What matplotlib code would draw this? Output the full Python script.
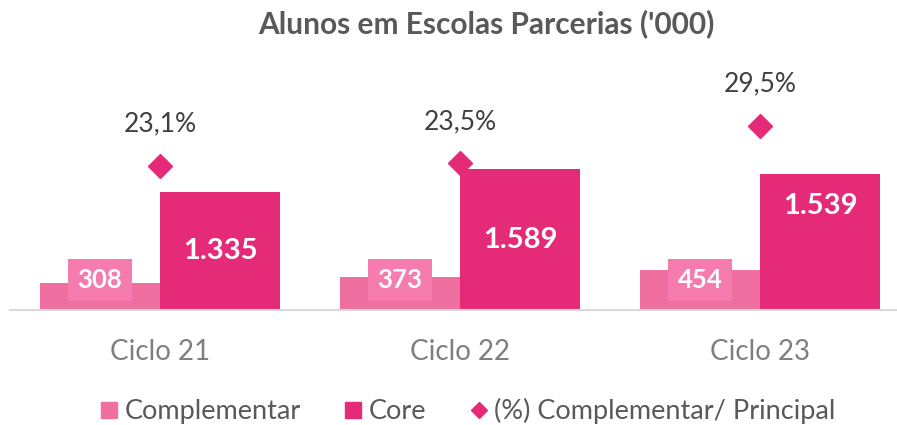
import matplotlib
matplotlib.use("Agg")
import matplotlib.pyplot as plt
from matplotlib.lines import Line2D
import numpy as np

plt.rcParams['font.family'] = ['Lato', 'DejaVu Sans']

categories = ["Ciclo 21", "Ciclo 22", "Ciclo 23"]
complementar = [308, 373, 454]
core = [1335, 1589, 1539]
pct = [23.1, 23.5, 29.5]
comp_labels = ["308", "373", "454"]
core_labels = ["1.335", "1.589", "1.539"]
pct_labels = ["23,1%", "23,5%", "29,5%"]
core_label_frac = [0.50, 0.50, 0.76]

C_COMP = "#EE6FA0"
C_COMP_BOX = "#F67BAE"
C_CORE = "#E52B78"

W, H = 897, 425
fig = plt.figure(figsize=(W / 100, H / 100), dpi=100)
ax_left, ax_right = 10, 896
ax_bottom, ax_top = 310, 60  # pixel rows from top
ax = fig.add_axes([ax_left / W, (H - ax_bottom) / H, (ax_right - ax_left) / W, (ax_bottom - ax_top) / H])

x = np.arange(len(categories))
bw = 0.4
ax.bar(x - bw / 2, complementar, width=bw, color=C_COMP, zorder=2)
ax.bar(x + bw / 2, core, width=bw, color=C_CORE, zorder=2)

ax.set_xlim(-0.5, -0.5 + (ax_right - ax_left) / 300)
ax.set_ylim(0, 250 / 0.0885)

for s in ["top", "right", "left"]:
    ax.spines[s].set_visible(False)
ax.spines["bottom"].set_color("#D9D9D9")
ax.spines["bottom"].set_linewidth(1.5)
ax.set_yticks([])
ax.set_xticks(x)
ax.set_xticklabels(categories, fontsize=20, color="#7F7F7F")
ax.tick_params(axis="x", length=0, pad=21)

# complementar labels with box
for xi, lab in zip(x, comp_labels):
    ax.text(xi - bw / 2, 339, lab, ha="center", va="center", fontsize=18.5, fontweight="bold",
            color="white", zorder=4,
            bbox=dict(boxstyle="square,pad=0.36", fc=C_COMP_BOX, ec="none"))

for xi, v, lab, f in zip(x, core, core_labels, core_label_frac):
    ax.text(xi + bw / 2, v * f, lab, ha="center", va="center", fontsize=21, fontweight="bold",
            color="white", zorder=4)

ax2 = ax.twinx()
ax2.set_ylim(0, 40)
ax2.axis("off")
ax2.plot(x, pct, linestyle="none", marker="D", markersize=12.5, color=C_CORE, zorder=5)
for xi, p, lab in zip(x, pct, pct_labels):
    ax2.annotate(lab, (xi, p), xytext=(0, 30), textcoords="offset points", ha="center", va="center",
                 fontsize=19, color="#404040")

fig.text(486 / W, 1 - 33 / H, "Alunos em Escolas Parcerias ('000)", ha="center", va="baseline",
         fontsize=21.5, fontweight="bold", color="#595959")

handles = [
    Line2D([], [], linestyle="none", marker="s", markersize=12, color=C_COMP),
    Line2D([], [], linestyle="none", marker="s", markersize=12, color=C_CORE),
    Line2D([], [], linestyle="none", marker="D", markersize=8, color=C_CORE),
]
leg = fig.legend(handles, ["Complementar", "Core", "(%) Complementar/ Principal"], loc="center",
                 bbox_to_anchor=(468 / W, 1 - 411 / H), ncol=3, frameon=False, fontsize=19.5,
                 handlelength=0.64, handletextpad=0.25, columnspacing=1.62, labelcolor="#595959",
                 borderpad=0, borderaxespad=0)

fig.savefig("out.png", dpi=100)
